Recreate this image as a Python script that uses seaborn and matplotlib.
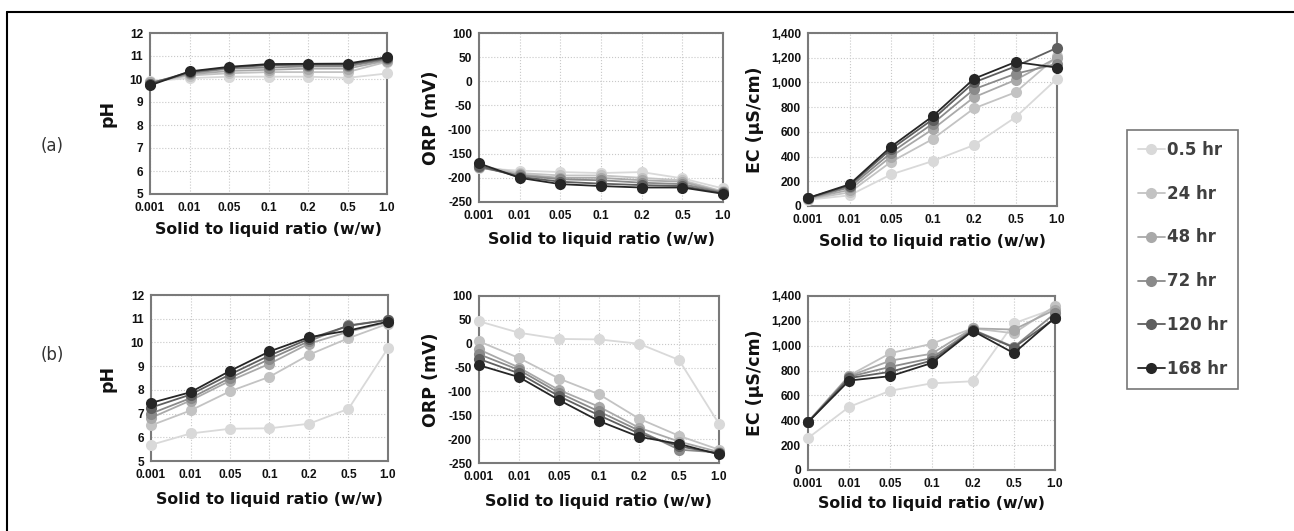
import pandas as pd
import matplotlib
matplotlib.use("Agg")
import matplotlib.pyplot as plt
from matplotlib.lines import Line2D
from matplotlib.ticker import MultipleLocator, FuncFormatter
import seaborn as sns

# x categories and series
ratios = ["0.001", "0.01", "0.05", "0.1", "0.2", "0.5", "1.0"]
times = ["0.5 hr", "24 hr", "48 hr", "72 hr", "120 hr", "168 hr"]
colors = ["#d9d9d9", "#c3c3c3", "#a9a9a9", "#8a8a8a", "#5f5f5f", "#262626"]

# row (a)
ph_a = [
    [9.90, 10.04, 10.10, 10.10, 10.10, 10.05, 10.24],
    [9.85, 10.15, 10.25, 10.30, 10.30, 10.30, 10.75],
    [9.85, 10.20, 10.35, 10.40, 10.45, 10.45, 10.80],
    [9.80, 10.25, 10.45, 10.50, 10.55, 10.55, 10.85],
    [9.80, 10.30, 10.50, 10.60, 10.62, 10.62, 10.90],
    [9.72, 10.33, 10.53, 10.65, 10.66, 10.67, 10.95],
]
orp_a = [
    [-180, -185, -188, -190, -188, -201, -222],
    [-175, -190, -195, -195, -200, -205, -228],
    [-178, -193, -200, -200, -205, -208, -230],
    [-178, -195, -203, -205, -210, -213, -230],
    [-175, -198, -208, -212, -215, -217, -232],
    [-170, -200, -213, -217, -220, -220, -233],
]
ec_a = [
    [50, 86, 255, 363, 493, 718, 1030],
    [55, 110, 357, 541, 790, 920, 1210],
    [60, 130, 400, 620, 880, 1020, 1200],
    [62, 150, 430, 665, 945, 1070, 1150],
    [65, 165, 460, 700, 1000, 1130, 1280],
    [65, 175, 480, 725, 1030, 1165, 1120],
]

# row (b)
ph_b = [
    [5.68, 6.16, 6.36, 6.38, 6.57, 7.20, 9.76],
    [6.50, 7.13, 7.94, 8.55, 9.48, 10.18, 10.79],
    [6.82, 7.55, 8.38, 9.10, 9.95, 10.45, 10.85],
    [7.00, 7.65, 8.50, 9.30, 10.05, 10.72, 10.95],
    [7.25, 7.80, 8.65, 9.45, 10.15, 10.70, 10.95],
    [7.45, 7.90, 8.80, 9.62, 10.22, 10.50, 10.88],
]
orp_b = [
    [47, 23, 10, 9, 0, -34, -168],
    [5, -30, -73, -106, -157, -193, -222],
    [-12, -50, -97, -132, -176, -205, -227],
    [-22, -55, -103, -142, -182, -222, -228],
    [-32, -62, -110, -150, -188, -215, -230],
    [-45, -70, -118, -162, -195, -210, -232],
]
ec_b = [
    [257, 508, 638, 697, 714, 1180, 1300],
    [390, 760, 940, 1015, 1140, 1100, 1320],
    [385, 755, 880, 935, 1140, 1130, 1290],
    [385, 750, 830, 900, 1130, 990, 1260],
    [385, 740, 790, 880, 1125, 985, 1220],
    [385, 720, 755, 860, 1120, 940, 1225],
]

sns.set_style("white")
plt.rcParams["font.family"] = ["DejaVu Sans"]
plt.rcParams["axes.unicode_minus"] = False

W, H = 1294, 531
fig = plt.figure(figsize=(W / 100, H / 100), dpi=100)


def long_df(series):
    rows = []
    for t, vals in zip(times, series):
        for i, v in enumerate(vals):
            rows.append({"pos": i, "val": v, "time": t})
    return pd.DataFrame(rows)


def add_panel(box, series, ylim, major, minor, ylabel, ylab_x, xlab_off, comma=False):
    l, t, r, b = box
    ax = fig.add_axes([l / W, 1 - b / H, (r - l) / W, (b - t) / H])
    sns.lineplot(data=long_df(series), x="pos", y="val", hue="time",
                 hue_order=times, palette=colors, marker="o", markersize=8,
                 markeredgewidth=0, linewidth=1.3, legend=False, ax=ax,
                 clip_on=False, zorder=3)
    ax.set_xlim(0, 6)
    ax.set_ylim(*ylim)
    ax.set_xticks(range(len(ratios)))
    ax.set_xticklabels(ratios)
    ax.xaxis.set_minor_locator(MultipleLocator(0.5))
    ax.yaxis.set_major_locator(MultipleLocator(major))
    ax.yaxis.set_minor_locator(MultipleLocator(minor))
    if comma:
        ax.yaxis.set_major_formatter(FuncFormatter(lambda v, p: f"{int(v):,}"))
    ax.tick_params(which="both", direction="in", colors="#555555",
                   labelcolor="#111111", top=False, right=False)
    ax.tick_params(which="major", length=4, width=0.8)
    ax.tick_params(which="minor", length=2.5, width=0.6)
    ax.tick_params(axis="x", which="major", pad=6)
    ax.tick_params(axis="y", which="major", pad=5)
    for lab in ax.get_xticklabels() + ax.get_yticklabels():
        lab.set_fontfamily("Liberation Sans")
        lab.set_fontweight("bold")
        lab.set_fontsize(8.6)
    ax.grid(True, which="major", linestyle=":", color="#c8c8c8", linewidth=0.8)
    ax.set_axisbelow(True)
    for sp in ax.spines.values():
        sp.set_color("#7a7a7a")
        sp.set_linewidth(1.5)
    ax.set_xlabel("Solid to liquid ratio (w/w)", fontsize=11.3,
                  fontweight="bold", color="#111111")
    ax.xaxis.set_label_coords(0.5, -xlab_off / (b - t))
    ax.set_ylabel(ylabel, fontsize=12.5, fontweight="bold", color="#111111")
    ax.yaxis.set_label_coords((ylab_x - l) / (r - l), 0.5)
    return ax


add_panel((150, 33, 387, 194), ph_a, (5, 12), 1, 0.2, "pH", 117, 28)
add_panel((479, 33, 723, 202), orp_a, (-250, 100), 50, 10, "ORP (mV)", 440, 30)
add_panel((808, 33, 1057, 206), ec_a, (0, 1400), 200, 40, "EC (\u03bcS/cm)", 764, 28, comma=True)
add_panel((151, 295, 388, 461), ph_b, (5, 12), 1, 0.2, "pH", 117, 31)
add_panel((479, 296, 719, 463), orp_b, (-250, 100), 50, 10, "ORP (mV)", 440, 31)
add_panel((808, 296, 1055, 470), ec_b, (0, 1400), 200, 40, "EC (\u03bcS/cm)", 764, 26, comma=True)

fig.text(52 / W, 1 - 146 / H, "(a)", fontsize=12, color="#333333", ha="center", va="center")
fig.text(52 / W, 1 - 355 / H, "(b)", fontsize=12, color="#333333", ha="center", va="center")

handles = [Line2D([], [], color=c, marker="o", markersize=8, markeredgewidth=0,
                  linewidth=1.3) for c in colors]
leg = fig.legend(handles, times, loc="upper left",
                 bbox_to_anchor=(1127 / W, 1 - 130 / H), borderaxespad=0,
                 frameon=True, prop={"weight": "bold", "size": 12},
                 labelcolor="#404040", handlelength=1.6, handletextpad=0.15,
                 labelspacing=1.55, borderpad=0.65, fancybox=False,
                 edgecolor="#555555")
leg.get_frame().set_linewidth(1.2)

# outer frame of the figure
fig.add_artist(Line2D([7 / W, 1], [1 - 12 / H, 1 - 12 / H], color="black", lw=1.5))
fig.add_artist(Line2D([7 / W, 7 / W], [0, 1 - 12 / H], color="black", lw=1.5))

fig.savefig("out.png", dpi=100)
